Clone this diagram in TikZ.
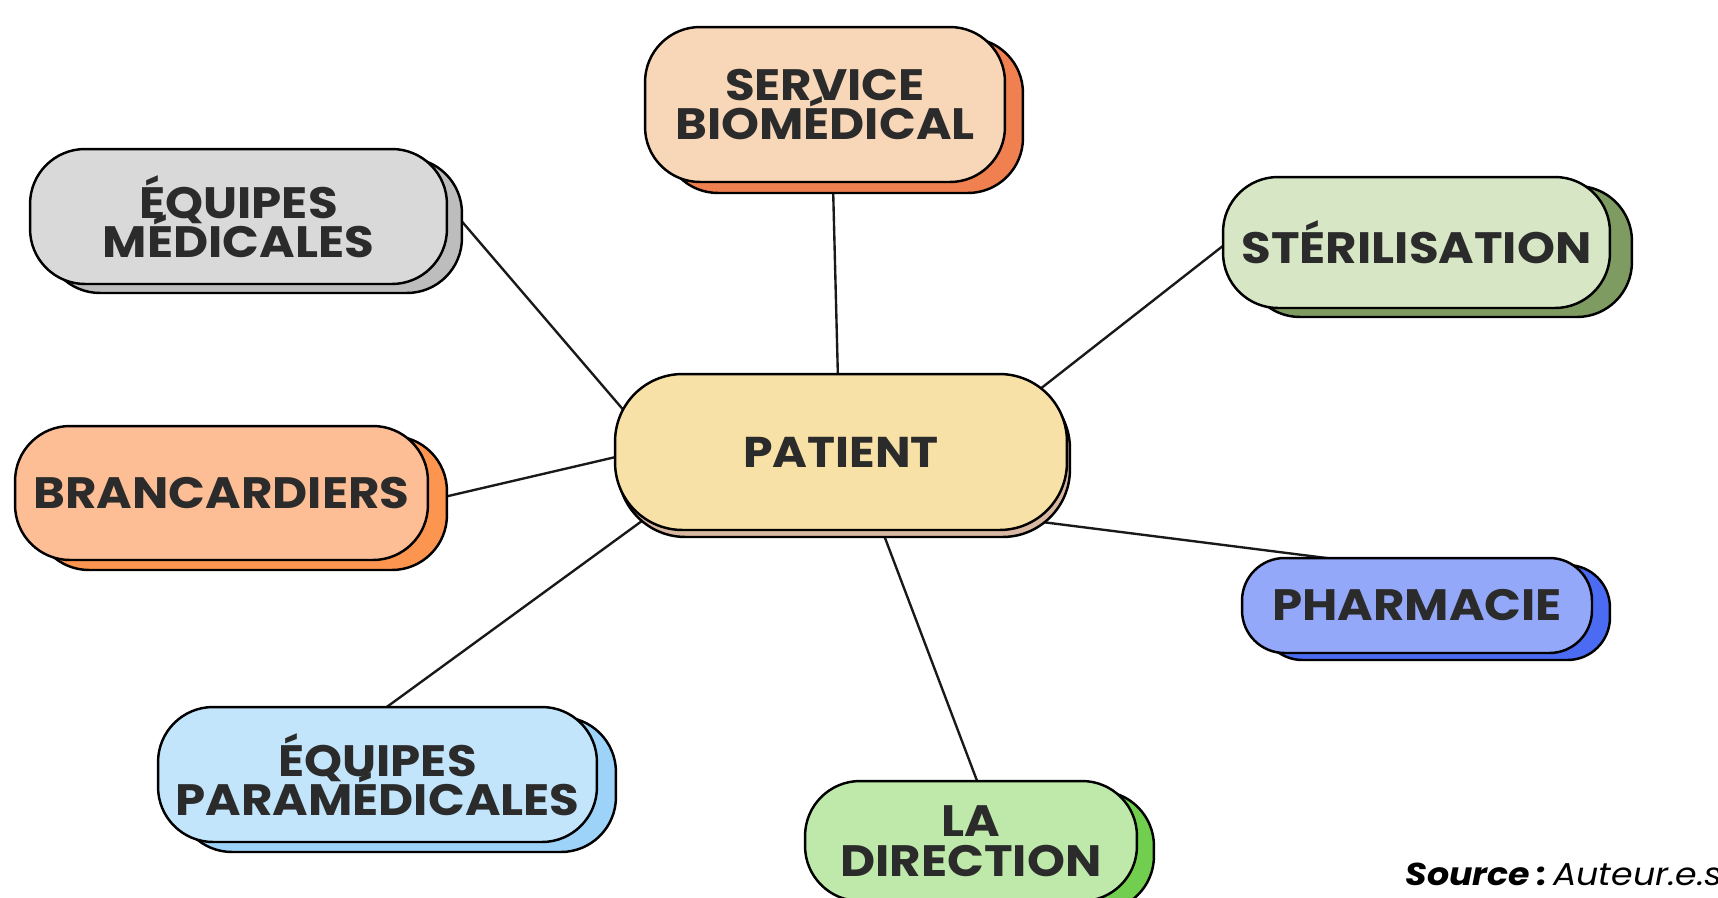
\documentclass[tikz,border=0pt]{standalone}
\usepackage{fontspec}
\setmainfont{Poppins}[FakeStretch=1.1]
\usetikzlibrary{shadows,calc}
\pgfdeclarelayer{bg}
\pgfdeclarelayer{lines}
\pgfsetlayers{bg,lines,main}
\newcommand\mytight{\lineskiplimit=-100pt\relax\lineskip=0pt\relax}
\definecolor{txt}{HTML}{2B2B2B}
\definecolor{sbf}{HTML}{F8D6B8}\definecolor{sbs}{HTML}{F08050}
\definecolor{emf}{HTML}{D9D9D9}\definecolor{ems}{HTML}{BDBDBD}
\definecolor{brf}{HTML}{FDBE96}\definecolor{brs}{HTML}{FC954F}
\definecolor{stf}{HTML}{D7E6C4}\definecolor{sts}{HTML}{7E9B62}
\definecolor{phf}{HTML}{94A8F9}\definecolor{phs}{HTML}{4B6CF2}
\definecolor{paf}{HTML}{F8E1A7}\definecolor{pas}{HTML}{D8B8A2}
\definecolor{epf}{HTML}{C2E5FC}\definecolor{eps}{HTML}{9DD3F9}
\definecolor{ldf}{HTML}{BFE9AA}\definecolor{lds}{HTML}{72CE4E}
\tikzset{
  box/.style={draw=black, line width=1.4pt, text=txt, align=center, inner sep=0pt,
    font=\fontsize{25}{22.5}\selectfont\bfseries\mytight, rounded corners=1.1cm},
  sh/.style n args={3}{general shadow={shadow xshift=#1, shadow yshift=#2, fill=#3, draw=black, line width=1.4pt}},
  conn/.style={draw=black!90, line width=1.35pt}
}
\begin{document}
\begin{tikzpicture}[x=0.02cm,y=-0.02cm]
\useasboundingbox (0,0) rectangle (1718,897);
\begin{pgfonlayer}{bg}
\fill[white] (0,0) rectangle (1718,897);
\end{pgfonlayer}

\node[box, fill=sbf, minimum width=7.2cm, minimum height=3.1cm, sh={0.36cm}{-0.22cm}{sbs}] (sb) at (825,104.5) {SERVICE\\BIOMÉDICAL};
\node[box, fill=emf, minimum width=8.34cm, minimum height=2.7cm, sh={0.3cm}{-0.18cm}{ems}] (em) at (238.5,216.5) {ÉQUIPES\\MÉDICALES};
\node[box, fill=brf, minimum width=8.26cm, minimum height=2.68cm, sh={0.38cm}{-0.2cm}{brs}] (br) at (221.5,493) {BRANCARDIERS};
\node[box, fill=stf, minimum width=7.74cm, minimum height=2.62cm, sh={0.44cm}{-0.18cm}{sts}] (st) at (1416.5,242.5) {STÉRILISATION};
\node[box, fill=phf, minimum width=7.0cm, minimum height=1.9cm, rounded corners=0.85cm, sh={0.36cm}{-0.14cm}{phs}] (ph) at (1417,605.5) {PHARMACIE};
\node[box, fill=paf, minimum width=9.04cm, minimum height=3.12cm, rounded corners=1.35cm, sh={0.06cm}{-0.14cm}{pas}, font=\fontsize{24.5}{24}\selectfont\bfseries] (pat) at (841,452) {PATIENT};
\node[box, fill=epf, minimum width=8.78cm, minimum height=2.7cm, sh={0.38cm}{-0.2cm}{eps}] (ep) at (377.5,774.5) {ÉQUIPES\\PARAMÉDICALES};
\node[box, fill=ldf, minimum width=6.64cm, minimum height=2.4cm, sh={0.34cm}{-0.2cm}{lds}] (ld) at (971,841) {LA\\DIRECTION};

\node[anchor=base west, inner sep=0pt, text=black, font=\fontsize{18}{20}\selectfont] (src) at (1405,885) {\textbf{\textit{Source :}}\,\textit{Auteur.e.s}};

\begin{pgfonlayer}{lines}
\draw[conn] ($(sb.center)+(8,80.5)$) -- ($(pat.center)+(-3,-72)$);
\draw[conn] ($(em.center)+(220,1)$) -- ($(pat.center)+(-215,-39)$);
\draw[conn] ($(st.center)+(-190.5,1)$) -- ($(pat.center)+(194,-59)$);
\draw[conn] ($(br.center)+(222.5,4)$) -- ($(pat.center)+(-221,4)$);
\draw[conn] ($(ph.center)+(-59,-43.5)$) -- ($(pat.center)+(197,69.5)$);
\draw[conn] ($(ep.center)+(6.5,-65.5)$) -- ($(pat.center)+(-195,66)$);
\draw[conn] ($(ld.center)+(8,-55)$) -- ($(pat.center)+(41,78)$);
\end{pgfonlayer}
\end{tikzpicture}
\end{document}
